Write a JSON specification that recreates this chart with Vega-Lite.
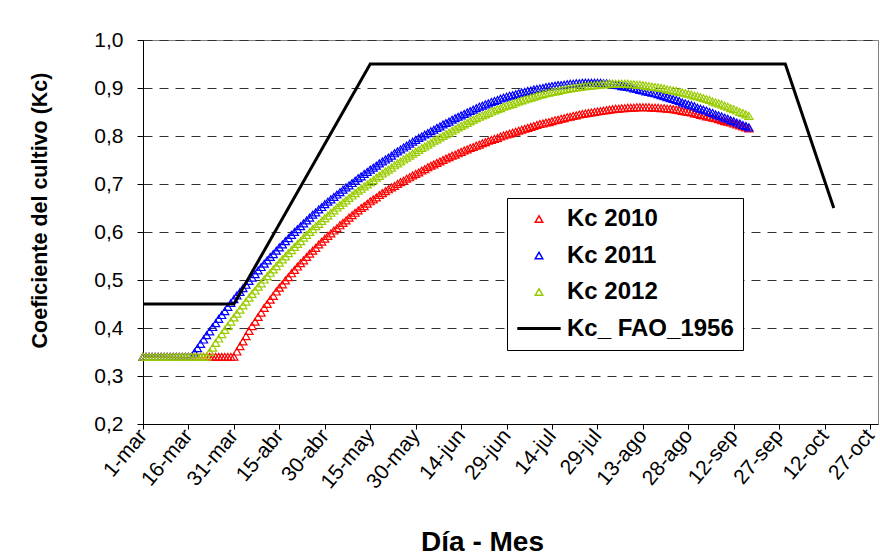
{
"$schema":"https://vega.github.io/schema/vega-lite/v6.json",
"width":735,"height":384,
"autosize":{"type":"none"},
"padding":{"left":143,"top":40,"right":2,"bottom":134},
"background":"white",
"config":{"view":{"stroke":"#808080","strokeWidth":1},"font":"Liberation Sans"},
"datasets":{
"fao":[{"d":0,"kc":0.45},{"d":30,"kc":0.45},{"d":75,"kc":0.95},{"d":212,"kc":0.95},{"d":228,"kc":0.65}],
"kc":[
{"d":0,"s":"Kc 2010","kc":0.34},{"d":1,"s":"Kc 2010","kc":0.34},{"d":2,"s":"Kc 2010","kc":0.34},{"d":3,"s":"Kc 2010","kc":0.34},{"d":4,"s":"Kc 2010","kc":0.34},{"d":5,"s":"Kc 2010","kc":0.34},{"d":6,"s":"Kc 2010","kc":0.34},{"d":7,"s":"Kc 2010","kc":0.34},{"d":8,"s":"Kc 2010","kc":0.34},{"d":9,"s":"Kc 2010","kc":0.34},
{"d":10,"s":"Kc 2010","kc":0.34},{"d":11,"s":"Kc 2010","kc":0.34},{"d":12,"s":"Kc 2010","kc":0.34},{"d":13,"s":"Kc 2010","kc":0.34},{"d":14,"s":"Kc 2010","kc":0.34},{"d":15,"s":"Kc 2010","kc":0.34},{"d":16,"s":"Kc 2010","kc":0.34},{"d":17,"s":"Kc 2010","kc":0.34},{"d":18,"s":"Kc 2010","kc":0.34},{"d":19,"s":"Kc 2010","kc":0.34},
{"d":20,"s":"Kc 2010","kc":0.34},{"d":21,"s":"Kc 2010","kc":0.34},{"d":22,"s":"Kc 2010","kc":0.34},{"d":23,"s":"Kc 2010","kc":0.34},{"d":24,"s":"Kc 2010","kc":0.34},{"d":25,"s":"Kc 2010","kc":0.34},{"d":26,"s":"Kc 2010","kc":0.34},{"d":27,"s":"Kc 2010","kc":0.34},{"d":28,"s":"Kc 2010","kc":0.34},{"d":29,"s":"Kc 2010","kc":0.34},
{"d":30,"s":"Kc 2010","kc":0.34},{"d":31,"s":"Kc 2010","kc":0.351},{"d":32,"s":"Kc 2010","kc":0.362},{"d":33,"s":"Kc 2010","kc":0.372},{"d":34,"s":"Kc 2010","kc":0.383},{"d":35,"s":"Kc 2010","kc":0.394},{"d":36,"s":"Kc 2010","kc":0.404},{"d":37,"s":"Kc 2010","kc":0.413},{"d":38,"s":"Kc 2010","kc":0.423},{"d":39,"s":"Kc 2010","kc":0.432},
{"d":40,"s":"Kc 2010","kc":0.442},{"d":41,"s":"Kc 2010","kc":0.45},{"d":42,"s":"Kc 2010","kc":0.459},{"d":43,"s":"Kc 2010","kc":0.467},{"d":44,"s":"Kc 2010","kc":0.476},{"d":45,"s":"Kc 2010","kc":0.484},{"d":46,"s":"Kc 2010","kc":0.491},{"d":47,"s":"Kc 2010","kc":0.499},{"d":48,"s":"Kc 2010","kc":0.506},{"d":49,"s":"Kc 2010","kc":0.514},
{"d":50,"s":"Kc 2010","kc":0.521},{"d":51,"s":"Kc 2010","kc":0.528},{"d":52,"s":"Kc 2010","kc":0.535},{"d":53,"s":"Kc 2010","kc":0.541},{"d":54,"s":"Kc 2010","kc":0.548},{"d":55,"s":"Kc 2010","kc":0.555},{"d":56,"s":"Kc 2010","kc":0.561},{"d":57,"s":"Kc 2010","kc":0.567},{"d":58,"s":"Kc 2010","kc":0.574},{"d":59,"s":"Kc 2010","kc":0.58},
{"d":60,"s":"Kc 2010","kc":0.586},{"d":61,"s":"Kc 2010","kc":0.592},{"d":62,"s":"Kc 2010","kc":0.597},{"d":63,"s":"Kc 2010","kc":0.603},{"d":64,"s":"Kc 2010","kc":0.608},{"d":65,"s":"Kc 2010","kc":0.614},{"d":66,"s":"Kc 2010","kc":0.619},{"d":67,"s":"Kc 2010","kc":0.624},{"d":68,"s":"Kc 2010","kc":0.63},{"d":69,"s":"Kc 2010","kc":0.635},
{"d":70,"s":"Kc 2010","kc":0.64},{"d":71,"s":"Kc 2010","kc":0.645},{"d":72,"s":"Kc 2010","kc":0.65},{"d":73,"s":"Kc 2010","kc":0.654},{"d":74,"s":"Kc 2010","kc":0.659},{"d":75,"s":"Kc 2010","kc":0.664},{"d":76,"s":"Kc 2010","kc":0.668},{"d":77,"s":"Kc 2010","kc":0.672},{"d":78,"s":"Kc 2010","kc":0.677},{"d":79,"s":"Kc 2010","kc":0.681},
{"d":80,"s":"Kc 2010","kc":0.685},{"d":81,"s":"Kc 2010","kc":0.689},{"d":82,"s":"Kc 2010","kc":0.693},{"d":83,"s":"Kc 2010","kc":0.696},{"d":84,"s":"Kc 2010","kc":0.7},{"d":85,"s":"Kc 2010","kc":0.704},{"d":86,"s":"Kc 2010","kc":0.707},{"d":87,"s":"Kc 2010","kc":0.711},{"d":88,"s":"Kc 2010","kc":0.714},{"d":89,"s":"Kc 2010","kc":0.718},
{"d":90,"s":"Kc 2010","kc":0.721},{"d":91,"s":"Kc 2010","kc":0.724},{"d":92,"s":"Kc 2010","kc":0.728},{"d":93,"s":"Kc 2010","kc":0.731},{"d":94,"s":"Kc 2010","kc":0.735},{"d":95,"s":"Kc 2010","kc":0.738},{"d":96,"s":"Kc 2010","kc":0.741},{"d":97,"s":"Kc 2010","kc":0.744},{"d":98,"s":"Kc 2010","kc":0.747},{"d":99,"s":"Kc 2010","kc":0.75},
{"d":100,"s":"Kc 2010","kc":0.753},{"d":101,"s":"Kc 2010","kc":0.756},{"d":102,"s":"Kc 2010","kc":0.759},{"d":103,"s":"Kc 2010","kc":0.761},{"d":104,"s":"Kc 2010","kc":0.764},{"d":105,"s":"Kc 2010","kc":0.767},{"d":106,"s":"Kc 2010","kc":0.77},{"d":107,"s":"Kc 2010","kc":0.772},{"d":108,"s":"Kc 2010","kc":0.775},{"d":109,"s":"Kc 2010","kc":0.777},
{"d":110,"s":"Kc 2010","kc":0.78},{"d":111,"s":"Kc 2010","kc":0.782},{"d":112,"s":"Kc 2010","kc":0.785},{"d":113,"s":"Kc 2010","kc":0.787},{"d":114,"s":"Kc 2010","kc":0.79},{"d":115,"s":"Kc 2010","kc":0.792},{"d":116,"s":"Kc 2010","kc":0.794},{"d":117,"s":"Kc 2010","kc":0.796},{"d":118,"s":"Kc 2010","kc":0.799},{"d":119,"s":"Kc 2010","kc":0.801},
{"d":120,"s":"Kc 2010","kc":0.803},{"d":121,"s":"Kc 2010","kc":0.805},{"d":122,"s":"Kc 2010","kc":0.807},{"d":123,"s":"Kc 2010","kc":0.809},{"d":124,"s":"Kc 2010","kc":0.811},{"d":125,"s":"Kc 2010","kc":0.813},{"d":126,"s":"Kc 2010","kc":0.815},{"d":127,"s":"Kc 2010","kc":0.817},{"d":128,"s":"Kc 2010","kc":0.819},{"d":129,"s":"Kc 2010","kc":0.821},
{"d":130,"s":"Kc 2010","kc":0.823},{"d":131,"s":"Kc 2010","kc":0.825},{"d":132,"s":"Kc 2010","kc":0.826},{"d":133,"s":"Kc 2010","kc":0.828},{"d":134,"s":"Kc 2010","kc":0.829},{"d":135,"s":"Kc 2010","kc":0.831},{"d":136,"s":"Kc 2010","kc":0.833},{"d":137,"s":"Kc 2010","kc":0.834},{"d":138,"s":"Kc 2010","kc":0.836},{"d":139,"s":"Kc 2010","kc":0.837},
{"d":140,"s":"Kc 2010","kc":0.839},{"d":141,"s":"Kc 2010","kc":0.84},{"d":142,"s":"Kc 2010","kc":0.842},{"d":143,"s":"Kc 2010","kc":0.843},{"d":144,"s":"Kc 2010","kc":0.845},{"d":145,"s":"Kc 2010","kc":0.846},{"d":146,"s":"Kc 2010","kc":0.847},{"d":147,"s":"Kc 2010","kc":0.848},{"d":148,"s":"Kc 2010","kc":0.849},{"d":149,"s":"Kc 2010","kc":0.85},
{"d":150,"s":"Kc 2010","kc":0.851},{"d":151,"s":"Kc 2010","kc":0.852},{"d":152,"s":"Kc 2010","kc":0.853},{"d":153,"s":"Kc 2010","kc":0.854},{"d":154,"s":"Kc 2010","kc":0.855},{"d":155,"s":"Kc 2010","kc":0.856},{"d":156,"s":"Kc 2010","kc":0.857},{"d":157,"s":"Kc 2010","kc":0.857},{"d":158,"s":"Kc 2010","kc":0.858},{"d":159,"s":"Kc 2010","kc":0.858},
{"d":160,"s":"Kc 2010","kc":0.859},{"d":161,"s":"Kc 2010","kc":0.859},{"d":162,"s":"Kc 2010","kc":0.859},{"d":163,"s":"Kc 2010","kc":0.86},{"d":164,"s":"Kc 2010","kc":0.86},{"d":165,"s":"Kc 2010","kc":0.86},{"d":166,"s":"Kc 2010","kc":0.86},{"d":167,"s":"Kc 2010","kc":0.86},{"d":168,"s":"Kc 2010","kc":0.859},{"d":169,"s":"Kc 2010","kc":0.859},
{"d":170,"s":"Kc 2010","kc":0.859},{"d":171,"s":"Kc 2010","kc":0.858},{"d":172,"s":"Kc 2010","kc":0.858},{"d":173,"s":"Kc 2010","kc":0.857},{"d":174,"s":"Kc 2010","kc":0.857},{"d":175,"s":"Kc 2010","kc":0.856},{"d":176,"s":"Kc 2010","kc":0.855},{"d":177,"s":"Kc 2010","kc":0.854},{"d":178,"s":"Kc 2010","kc":0.852},{"d":179,"s":"Kc 2010","kc":0.851},
{"d":180,"s":"Kc 2010","kc":0.85},{"d":181,"s":"Kc 2010","kc":0.849},{"d":182,"s":"Kc 2010","kc":0.847},{"d":183,"s":"Kc 2010","kc":0.846},{"d":184,"s":"Kc 2010","kc":0.844},{"d":185,"s":"Kc 2010","kc":0.843},{"d":186,"s":"Kc 2010","kc":0.841},{"d":187,"s":"Kc 2010","kc":0.84},{"d":188,"s":"Kc 2010","kc":0.838},{"d":189,"s":"Kc 2010","kc":0.837},
{"d":190,"s":"Kc 2010","kc":0.835},{"d":191,"s":"Kc 2010","kc":0.833},{"d":192,"s":"Kc 2010","kc":0.831},{"d":193,"s":"Kc 2010","kc":0.83},{"d":194,"s":"Kc 2010","kc":0.828},{"d":195,"s":"Kc 2010","kc":0.826},{"d":196,"s":"Kc 2010","kc":0.824},{"d":197,"s":"Kc 2010","kc":0.822},{"d":198,"s":"Kc 2010","kc":0.82},{"d":199,"s":"Kc 2010","kc":0.818},
{"d":200,"s":"Kc 2010","kc":0.816},
{"d":0,"s":"Kc 2011","kc":0.34},{"d":1,"s":"Kc 2011","kc":0.34},{"d":2,"s":"Kc 2011","kc":0.34},{"d":3,"s":"Kc 2011","kc":0.34},{"d":4,"s":"Kc 2011","kc":0.34},{"d":5,"s":"Kc 2011","kc":0.34},{"d":6,"s":"Kc 2011","kc":0.34},{"d":7,"s":"Kc 2011","kc":0.34},{"d":8,"s":"Kc 2011","kc":0.34},{"d":9,"s":"Kc 2011","kc":0.34},
{"d":10,"s":"Kc 2011","kc":0.34},{"d":11,"s":"Kc 2011","kc":0.34},{"d":12,"s":"Kc 2011","kc":0.34},{"d":13,"s":"Kc 2011","kc":0.34},{"d":14,"s":"Kc 2011","kc":0.34},{"d":15,"s":"Kc 2011","kc":0.34},{"d":16,"s":"Kc 2011","kc":0.34},{"d":17,"s":"Kc 2011","kc":0.349},{"d":18,"s":"Kc 2011","kc":0.358},{"d":19,"s":"Kc 2011","kc":0.367},
{"d":20,"s":"Kc 2011","kc":0.376},{"d":21,"s":"Kc 2011","kc":0.385},{"d":22,"s":"Kc 2011","kc":0.393},{"d":23,"s":"Kc 2011","kc":0.402},{"d":24,"s":"Kc 2011","kc":0.41},{"d":25,"s":"Kc 2011","kc":0.419},{"d":26,"s":"Kc 2011","kc":0.427},{"d":27,"s":"Kc 2011","kc":0.435},{"d":28,"s":"Kc 2011","kc":0.444},{"d":29,"s":"Kc 2011","kc":0.452},
{"d":30,"s":"Kc 2011","kc":0.46},{"d":31,"s":"Kc 2011","kc":0.468},{"d":32,"s":"Kc 2011","kc":0.475},{"d":33,"s":"Kc 2011","kc":0.483},{"d":34,"s":"Kc 2011","kc":0.49},{"d":35,"s":"Kc 2011","kc":0.498},{"d":36,"s":"Kc 2011","kc":0.505},{"d":37,"s":"Kc 2011","kc":0.512},{"d":38,"s":"Kc 2011","kc":0.52},{"d":39,"s":"Kc 2011","kc":0.527},
{"d":40,"s":"Kc 2011","kc":0.534},{"d":41,"s":"Kc 2011","kc":0.541},{"d":42,"s":"Kc 2011","kc":0.548},{"d":43,"s":"Kc 2011","kc":0.554},{"d":44,"s":"Kc 2011","kc":0.561},{"d":45,"s":"Kc 2011","kc":0.568},{"d":46,"s":"Kc 2011","kc":0.574},{"d":47,"s":"Kc 2011","kc":0.581},{"d":48,"s":"Kc 2011","kc":0.587},{"d":49,"s":"Kc 2011","kc":0.594},
{"d":50,"s":"Kc 2011","kc":0.6},{"d":51,"s":"Kc 2011","kc":0.606},{"d":52,"s":"Kc 2011","kc":0.612},{"d":53,"s":"Kc 2011","kc":0.618},{"d":54,"s":"Kc 2011","kc":0.624},{"d":55,"s":"Kc 2011","kc":0.63},{"d":56,"s":"Kc 2011","kc":0.636},{"d":57,"s":"Kc 2011","kc":0.641},{"d":58,"s":"Kc 2011","kc":0.647},{"d":59,"s":"Kc 2011","kc":0.652},
{"d":60,"s":"Kc 2011","kc":0.658},{"d":61,"s":"Kc 2011","kc":0.663},{"d":62,"s":"Kc 2011","kc":0.668},{"d":63,"s":"Kc 2011","kc":0.673},{"d":64,"s":"Kc 2011","kc":0.678},{"d":65,"s":"Kc 2011","kc":0.683},{"d":66,"s":"Kc 2011","kc":0.688},{"d":67,"s":"Kc 2011","kc":0.693},{"d":68,"s":"Kc 2011","kc":0.697},{"d":69,"s":"Kc 2011","kc":0.702},
{"d":70,"s":"Kc 2011","kc":0.707},{"d":71,"s":"Kc 2011","kc":0.712},{"d":72,"s":"Kc 2011","kc":0.716},{"d":73,"s":"Kc 2011","kc":0.721},{"d":74,"s":"Kc 2011","kc":0.725},{"d":75,"s":"Kc 2011","kc":0.73},{"d":76,"s":"Kc 2011","kc":0.734},{"d":77,"s":"Kc 2011","kc":0.738},{"d":78,"s":"Kc 2011","kc":0.743},{"d":79,"s":"Kc 2011","kc":0.747},
{"d":80,"s":"Kc 2011","kc":0.751},{"d":81,"s":"Kc 2011","kc":0.755},{"d":82,"s":"Kc 2011","kc":0.759},{"d":83,"s":"Kc 2011","kc":0.764},{"d":84,"s":"Kc 2011","kc":0.768},{"d":85,"s":"Kc 2011","kc":0.772},{"d":86,"s":"Kc 2011","kc":0.776},{"d":87,"s":"Kc 2011","kc":0.78},{"d":88,"s":"Kc 2011","kc":0.784},{"d":89,"s":"Kc 2011","kc":0.788},
{"d":90,"s":"Kc 2011","kc":0.792},{"d":91,"s":"Kc 2011","kc":0.796},{"d":92,"s":"Kc 2011","kc":0.799},{"d":93,"s":"Kc 2011","kc":0.803},{"d":94,"s":"Kc 2011","kc":0.806},{"d":95,"s":"Kc 2011","kc":0.81},{"d":96,"s":"Kc 2011","kc":0.813},{"d":97,"s":"Kc 2011","kc":0.817},{"d":98,"s":"Kc 2011","kc":0.82},{"d":99,"s":"Kc 2011","kc":0.824},
{"d":100,"s":"Kc 2011","kc":0.827},{"d":101,"s":"Kc 2011","kc":0.83},{"d":102,"s":"Kc 2011","kc":0.834},{"d":103,"s":"Kc 2011","kc":0.837},{"d":104,"s":"Kc 2011","kc":0.84},{"d":105,"s":"Kc 2011","kc":0.843},{"d":106,"s":"Kc 2011","kc":0.846},{"d":107,"s":"Kc 2011","kc":0.849},{"d":108,"s":"Kc 2011","kc":0.852},{"d":109,"s":"Kc 2011","kc":0.855},
{"d":110,"s":"Kc 2011","kc":0.858},{"d":111,"s":"Kc 2011","kc":0.861},{"d":112,"s":"Kc 2011","kc":0.863},{"d":113,"s":"Kc 2011","kc":0.866},{"d":114,"s":"Kc 2011","kc":0.868},{"d":115,"s":"Kc 2011","kc":0.871},{"d":116,"s":"Kc 2011","kc":0.873},{"d":117,"s":"Kc 2011","kc":0.875},{"d":118,"s":"Kc 2011","kc":0.878},{"d":119,"s":"Kc 2011","kc":0.88},
{"d":120,"s":"Kc 2011","kc":0.882},{"d":121,"s":"Kc 2011","kc":0.884},{"d":122,"s":"Kc 2011","kc":0.885},{"d":123,"s":"Kc 2011","kc":0.887},{"d":124,"s":"Kc 2011","kc":0.889},{"d":125,"s":"Kc 2011","kc":0.891},{"d":126,"s":"Kc 2011","kc":0.892},{"d":127,"s":"Kc 2011","kc":0.894},{"d":128,"s":"Kc 2011","kc":0.895},{"d":129,"s":"Kc 2011","kc":0.897},
{"d":130,"s":"Kc 2011","kc":0.898},{"d":131,"s":"Kc 2011","kc":0.899},{"d":132,"s":"Kc 2011","kc":0.9},{"d":133,"s":"Kc 2011","kc":0.902},{"d":134,"s":"Kc 2011","kc":0.903},{"d":135,"s":"Kc 2011","kc":0.904},{"d":136,"s":"Kc 2011","kc":0.905},{"d":137,"s":"Kc 2011","kc":0.906},{"d":138,"s":"Kc 2011","kc":0.906},{"d":139,"s":"Kc 2011","kc":0.907},
{"d":140,"s":"Kc 2011","kc":0.908},{"d":141,"s":"Kc 2011","kc":0.909},{"d":142,"s":"Kc 2011","kc":0.909},{"d":143,"s":"Kc 2011","kc":0.91},{"d":144,"s":"Kc 2011","kc":0.91},{"d":145,"s":"Kc 2011","kc":0.911},{"d":146,"s":"Kc 2011","kc":0.911},{"d":147,"s":"Kc 2011","kc":0.911},{"d":148,"s":"Kc 2011","kc":0.911},{"d":149,"s":"Kc 2011","kc":0.911},
{"d":150,"s":"Kc 2011","kc":0.911},{"d":151,"s":"Kc 2011","kc":0.911},{"d":152,"s":"Kc 2011","kc":0.91},{"d":153,"s":"Kc 2011","kc":0.91},{"d":154,"s":"Kc 2011","kc":0.909},{"d":155,"s":"Kc 2011","kc":0.908},{"d":156,"s":"Kc 2011","kc":0.907},{"d":157,"s":"Kc 2011","kc":0.906},{"d":158,"s":"Kc 2011","kc":0.904},{"d":159,"s":"Kc 2011","kc":0.903},
{"d":160,"s":"Kc 2011","kc":0.902},{"d":161,"s":"Kc 2011","kc":0.901},{"d":162,"s":"Kc 2011","kc":0.899},{"d":163,"s":"Kc 2011","kc":0.898},{"d":164,"s":"Kc 2011","kc":0.896},{"d":165,"s":"Kc 2011","kc":0.895},{"d":166,"s":"Kc 2011","kc":0.893},{"d":167,"s":"Kc 2011","kc":0.892},{"d":168,"s":"Kc 2011","kc":0.89},{"d":169,"s":"Kc 2011","kc":0.889},
{"d":170,"s":"Kc 2011","kc":0.887},{"d":171,"s":"Kc 2011","kc":0.885},{"d":172,"s":"Kc 2011","kc":0.883},{"d":173,"s":"Kc 2011","kc":0.881},{"d":174,"s":"Kc 2011","kc":0.879},{"d":175,"s":"Kc 2011","kc":0.877},{"d":176,"s":"Kc 2011","kc":0.875},{"d":177,"s":"Kc 2011","kc":0.873},{"d":178,"s":"Kc 2011","kc":0.87},{"d":179,"s":"Kc 2011","kc":0.868},
{"d":180,"s":"Kc 2011","kc":0.866},{"d":181,"s":"Kc 2011","kc":0.864},{"d":182,"s":"Kc 2011","kc":0.862},{"d":183,"s":"Kc 2011","kc":0.859},{"d":184,"s":"Kc 2011","kc":0.857},{"d":185,"s":"Kc 2011","kc":0.855},{"d":186,"s":"Kc 2011","kc":0.853},{"d":187,"s":"Kc 2011","kc":0.85},{"d":188,"s":"Kc 2011","kc":0.848},{"d":189,"s":"Kc 2011","kc":0.845},
{"d":190,"s":"Kc 2011","kc":0.843},{"d":191,"s":"Kc 2011","kc":0.841},{"d":192,"s":"Kc 2011","kc":0.838},{"d":193,"s":"Kc 2011","kc":0.836},{"d":194,"s":"Kc 2011","kc":0.833},{"d":195,"s":"Kc 2011","kc":0.831},{"d":196,"s":"Kc 2011","kc":0.828},{"d":197,"s":"Kc 2011","kc":0.826},{"d":198,"s":"Kc 2011","kc":0.823},{"d":199,"s":"Kc 2011","kc":0.821},
{"d":200,"s":"Kc 2011","kc":0.818},
{"d":0,"s":"Kc 2012","kc":0.34},{"d":1,"s":"Kc 2012","kc":0.34},{"d":2,"s":"Kc 2012","kc":0.34},{"d":3,"s":"Kc 2012","kc":0.34},{"d":4,"s":"Kc 2012","kc":0.34},{"d":5,"s":"Kc 2012","kc":0.34},{"d":6,"s":"Kc 2012","kc":0.34},{"d":7,"s":"Kc 2012","kc":0.34},{"d":8,"s":"Kc 2012","kc":0.34},{"d":9,"s":"Kc 2012","kc":0.34},
{"d":10,"s":"Kc 2012","kc":0.34},{"d":11,"s":"Kc 2012","kc":0.34},{"d":12,"s":"Kc 2012","kc":0.34},{"d":13,"s":"Kc 2012","kc":0.34},{"d":14,"s":"Kc 2012","kc":0.34},{"d":15,"s":"Kc 2012","kc":0.34},{"d":16,"s":"Kc 2012","kc":0.34},{"d":17,"s":"Kc 2012","kc":0.34},{"d":18,"s":"Kc 2012","kc":0.34},{"d":19,"s":"Kc 2012","kc":0.34},
{"d":20,"s":"Kc 2012","kc":0.34},{"d":21,"s":"Kc 2012","kc":0.34},{"d":22,"s":"Kc 2012","kc":0.35},{"d":23,"s":"Kc 2012","kc":0.359},{"d":24,"s":"Kc 2012","kc":0.369},{"d":25,"s":"Kc 2012","kc":0.378},{"d":26,"s":"Kc 2012","kc":0.387},{"d":27,"s":"Kc 2012","kc":0.396},{"d":28,"s":"Kc 2012","kc":0.404},{"d":29,"s":"Kc 2012","kc":0.413},
{"d":30,"s":"Kc 2012","kc":0.422},{"d":31,"s":"Kc 2012","kc":0.43},{"d":32,"s":"Kc 2012","kc":0.438},{"d":33,"s":"Kc 2012","kc":0.447},{"d":34,"s":"Kc 2012","kc":0.455},{"d":35,"s":"Kc 2012","kc":0.463},{"d":36,"s":"Kc 2012","kc":0.471},{"d":37,"s":"Kc 2012","kc":0.478},{"d":38,"s":"Kc 2012","kc":0.486},{"d":39,"s":"Kc 2012","kc":0.493},
{"d":40,"s":"Kc 2012","kc":0.501},{"d":41,"s":"Kc 2012","kc":0.508},{"d":42,"s":"Kc 2012","kc":0.515},{"d":43,"s":"Kc 2012","kc":0.522},{"d":44,"s":"Kc 2012","kc":0.529},{"d":45,"s":"Kc 2012","kc":0.536},{"d":46,"s":"Kc 2012","kc":0.543},{"d":47,"s":"Kc 2012","kc":0.549},{"d":48,"s":"Kc 2012","kc":0.556},{"d":49,"s":"Kc 2012","kc":0.562},
{"d":50,"s":"Kc 2012","kc":0.569},{"d":51,"s":"Kc 2012","kc":0.575},{"d":52,"s":"Kc 2012","kc":0.581},{"d":53,"s":"Kc 2012","kc":0.588},{"d":54,"s":"Kc 2012","kc":0.594},{"d":55,"s":"Kc 2012","kc":0.6},{"d":56,"s":"Kc 2012","kc":0.606},{"d":57,"s":"Kc 2012","kc":0.612},{"d":58,"s":"Kc 2012","kc":0.617},{"d":59,"s":"Kc 2012","kc":0.623},
{"d":60,"s":"Kc 2012","kc":0.629},{"d":61,"s":"Kc 2012","kc":0.634},{"d":62,"s":"Kc 2012","kc":0.64},{"d":63,"s":"Kc 2012","kc":0.645},{"d":64,"s":"Kc 2012","kc":0.651},{"d":65,"s":"Kc 2012","kc":0.656},{"d":66,"s":"Kc 2012","kc":0.661},{"d":67,"s":"Kc 2012","kc":0.666},{"d":68,"s":"Kc 2012","kc":0.671},{"d":69,"s":"Kc 2012","kc":0.676},
{"d":70,"s":"Kc 2012","kc":0.681},{"d":71,"s":"Kc 2012","kc":0.686},{"d":72,"s":"Kc 2012","kc":0.69},{"d":73,"s":"Kc 2012","kc":0.695},{"d":74,"s":"Kc 2012","kc":0.699},{"d":75,"s":"Kc 2012","kc":0.704},{"d":76,"s":"Kc 2012","kc":0.708},{"d":77,"s":"Kc 2012","kc":0.713},{"d":78,"s":"Kc 2012","kc":0.717},{"d":79,"s":"Kc 2012","kc":0.722},
{"d":80,"s":"Kc 2012","kc":0.726},{"d":81,"s":"Kc 2012","kc":0.73},{"d":82,"s":"Kc 2012","kc":0.734},{"d":83,"s":"Kc 2012","kc":0.739},{"d":84,"s":"Kc 2012","kc":0.743},{"d":85,"s":"Kc 2012","kc":0.747},{"d":86,"s":"Kc 2012","kc":0.751},{"d":87,"s":"Kc 2012","kc":0.755},{"d":88,"s":"Kc 2012","kc":0.759},{"d":89,"s":"Kc 2012","kc":0.763},
{"d":90,"s":"Kc 2012","kc":0.767},{"d":91,"s":"Kc 2012","kc":0.771},{"d":92,"s":"Kc 2012","kc":0.775},{"d":93,"s":"Kc 2012","kc":0.778},{"d":94,"s":"Kc 2012","kc":0.782},{"d":95,"s":"Kc 2012","kc":0.786},{"d":96,"s":"Kc 2012","kc":0.79},{"d":97,"s":"Kc 2012","kc":0.793},{"d":98,"s":"Kc 2012","kc":0.797},{"d":99,"s":"Kc 2012","kc":0.8},
{"d":100,"s":"Kc 2012","kc":0.804},{"d":101,"s":"Kc 2012","kc":0.807},{"d":102,"s":"Kc 2012","kc":0.811},{"d":103,"s":"Kc 2012","kc":0.814},{"d":104,"s":"Kc 2012","kc":0.818},{"d":105,"s":"Kc 2012","kc":0.821},{"d":106,"s":"Kc 2012","kc":0.824},{"d":107,"s":"Kc 2012","kc":0.827},{"d":108,"s":"Kc 2012","kc":0.831},{"d":109,"s":"Kc 2012","kc":0.834},
{"d":110,"s":"Kc 2012","kc":0.837},{"d":111,"s":"Kc 2012","kc":0.84},{"d":112,"s":"Kc 2012","kc":0.843},{"d":113,"s":"Kc 2012","kc":0.845},{"d":114,"s":"Kc 2012","kc":0.848},{"d":115,"s":"Kc 2012","kc":0.851},{"d":116,"s":"Kc 2012","kc":0.853},{"d":117,"s":"Kc 2012","kc":0.856},{"d":118,"s":"Kc 2012","kc":0.858},{"d":119,"s":"Kc 2012","kc":0.861},
{"d":120,"s":"Kc 2012","kc":0.863},{"d":121,"s":"Kc 2012","kc":0.865},{"d":122,"s":"Kc 2012","kc":0.867},{"d":123,"s":"Kc 2012","kc":0.87},{"d":124,"s":"Kc 2012","kc":0.872},{"d":125,"s":"Kc 2012","kc":0.874},{"d":126,"s":"Kc 2012","kc":0.876},{"d":127,"s":"Kc 2012","kc":0.878},{"d":128,"s":"Kc 2012","kc":0.88},{"d":129,"s":"Kc 2012","kc":0.882},
{"d":130,"s":"Kc 2012","kc":0.884},{"d":131,"s":"Kc 2012","kc":0.886},{"d":132,"s":"Kc 2012","kc":0.887},{"d":133,"s":"Kc 2012","kc":0.889},{"d":134,"s":"Kc 2012","kc":0.89},{"d":135,"s":"Kc 2012","kc":0.892},{"d":136,"s":"Kc 2012","kc":0.893},{"d":137,"s":"Kc 2012","kc":0.894},{"d":138,"s":"Kc 2012","kc":0.896},{"d":139,"s":"Kc 2012","kc":0.897},
{"d":140,"s":"Kc 2012","kc":0.898},{"d":141,"s":"Kc 2012","kc":0.899},{"d":142,"s":"Kc 2012","kc":0.9},{"d":143,"s":"Kc 2012","kc":0.901},{"d":144,"s":"Kc 2012","kc":0.902},{"d":145,"s":"Kc 2012","kc":0.903},{"d":146,"s":"Kc 2012","kc":0.904},{"d":147,"s":"Kc 2012","kc":0.905},{"d":148,"s":"Kc 2012","kc":0.905},{"d":149,"s":"Kc 2012","kc":0.906},
{"d":150,"s":"Kc 2012","kc":0.907},{"d":151,"s":"Kc 2012","kc":0.907},{"d":152,"s":"Kc 2012","kc":0.908},{"d":153,"s":"Kc 2012","kc":0.908},{"d":154,"s":"Kc 2012","kc":0.909},{"d":155,"s":"Kc 2012","kc":0.909},{"d":156,"s":"Kc 2012","kc":0.909},{"d":157,"s":"Kc 2012","kc":0.909},{"d":158,"s":"Kc 2012","kc":0.909},{"d":159,"s":"Kc 2012","kc":0.909},
{"d":160,"s":"Kc 2012","kc":0.909},{"d":161,"s":"Kc 2012","kc":0.908},{"d":162,"s":"Kc 2012","kc":0.908},{"d":163,"s":"Kc 2012","kc":0.907},{"d":164,"s":"Kc 2012","kc":0.907},{"d":165,"s":"Kc 2012","kc":0.906},{"d":166,"s":"Kc 2012","kc":0.905},{"d":167,"s":"Kc 2012","kc":0.904},{"d":168,"s":"Kc 2012","kc":0.903},{"d":169,"s":"Kc 2012","kc":0.902},
{"d":170,"s":"Kc 2012","kc":0.901},{"d":171,"s":"Kc 2012","kc":0.9},{"d":172,"s":"Kc 2012","kc":0.899},{"d":173,"s":"Kc 2012","kc":0.897},{"d":174,"s":"Kc 2012","kc":0.896},{"d":175,"s":"Kc 2012","kc":0.895},{"d":176,"s":"Kc 2012","kc":0.894},{"d":177,"s":"Kc 2012","kc":0.892},{"d":178,"s":"Kc 2012","kc":0.891},{"d":179,"s":"Kc 2012","kc":0.889},
{"d":180,"s":"Kc 2012","kc":0.888},{"d":181,"s":"Kc 2012","kc":0.886},{"d":182,"s":"Kc 2012","kc":0.884},{"d":183,"s":"Kc 2012","kc":0.883},{"d":184,"s":"Kc 2012","kc":0.881},{"d":185,"s":"Kc 2012","kc":0.879},{"d":186,"s":"Kc 2012","kc":0.877},{"d":187,"s":"Kc 2012","kc":0.875},{"d":188,"s":"Kc 2012","kc":0.872},{"d":189,"s":"Kc 2012","kc":0.87},
{"d":190,"s":"Kc 2012","kc":0.868},{"d":191,"s":"Kc 2012","kc":0.866},{"d":192,"s":"Kc 2012","kc":0.863},{"d":193,"s":"Kc 2012","kc":0.861},{"d":194,"s":"Kc 2012","kc":0.858},{"d":195,"s":"Kc 2012","kc":0.856},{"d":196,"s":"Kc 2012","kc":0.853},{"d":197,"s":"Kc 2012","kc":0.85},{"d":198,"s":"Kc 2012","kc":0.848},{"d":199,"s":"Kc 2012","kc":0.845},
{"d":200,"s":"Kc 2012","kc":0.842}
]},
"layer":[
{"data":{"name":"kc"},
 "mark":{"type":"point","filled":false,"size":64,"strokeWidth":1.2,"opacity":1},
 "encoding":{
  "x":{"field":"d","type":"quantitative","scale":{"domain":[0,242.6],"nice":false,"zero":false},
   "axis":{"values":[0,15,30,45,60,75,90,105,120,135,150,165,180,195,210,225,240],
    "labelExpr":"['1-mar','16-mar','31-mar','15-abr','30-abr','15-may','30-may','14-jun','29-jun','14-jul','29-jul','13-ago','28-ago','12-sep','27-sep','12-oct','27-oct'][round(datum.value/15)]",
    "labelAngle":-50,"labelAlign":"right","labelBaseline":"middle","labelFontSize":21,"labelColor":"black","labelPadding":3,"labelOverlap":false,"labelBound":false,"labelFlush":false,
    "grid":false,"domainColor":"black","tickColor":"black","tickSize":5,
    "title":"Día - Mes","titleFontSize":28,"titleFontWeight":"bold","titleColor":"black","titleX":339,"titleY":126,"titleBaseline":"alphabetic","titleAlign":"center","titleAnchor":null}},
  "y":{"field":"kc","type":"quantitative","scale":{"domain":[0.2,1.0],"nice":false,"zero":false},
   "axis":{"values":[0.2,0.3,0.4,0.5,0.6,0.7,0.8,0.9,1.0],
    "labelExpr":"replace(format(datum.value,'.1f'),'.',',')",
    "labelFontSize":21,"labelColor":"black","labelPadding":14,"labelOverlap":false,
    "grid":true,"gridColor":"#333333","gridDash":[9,7],"gridWidth":1,
    "domainColor":"black","tickColor":"black","tickSize":6,
    "title":"Coeficiente del cultivo (Kc)","titleFontSize":21.5,"titleFontWeight":"bold","titleColor":"black","titleAngle":-90,"titleX":-103,"titleY":170,"titleBaseline":"middle","titleAlign":"center"}},
  "color":{"field":"s","type":"nominal","scale":{"domain":["Kc 2010","Kc 2011","Kc 2012","Kc_ FAO_1956"],"range":["#FF0000","#0000FF","#99CC00","#000000"]},
   "legend":{"title":null,"orient":"none","legendX":364,"legendY":158,"strokeColor":"black","fillColor":"white","padding":9,"rowPadding":12.5,"symbolSize":56,"symbolOffset":11,"labelFontSize":24,"labelFontWeight":"bold","labelColor":"black","labelOffset":16,"labelLimit":400,"symbolStrokeWidth":1.5}},
  "shape":{"field":"s","type":"nominal","scale":{"domain":["Kc 2010","Kc 2011","Kc 2012","Kc_ FAO_1956"],"range":["triangle-up","triangle-up","triangle-up","M-5.6,-0.2H5.6V0.2H-5.6Z"]},
   "legend":{"title":null,"orient":"none","legendX":364,"legendY":158,"strokeColor":"black","fillColor":"white","padding":9,"rowPadding":12.5,"symbolSize":56,"symbolOffset":11,"labelFontSize":24,"labelFontWeight":"bold","labelColor":"black","labelOffset":16,"labelLimit":400,"symbolStrokeWidth":1.5}}
 }},
{"data":{"name":"fao"},
 "mark":{"type":"line","color":"black","strokeWidth":3},
 "encoding":{"x":{"field":"d","type":"quantitative"},"y":{"field":"kc","type":"quantitative"}}}
]
}
